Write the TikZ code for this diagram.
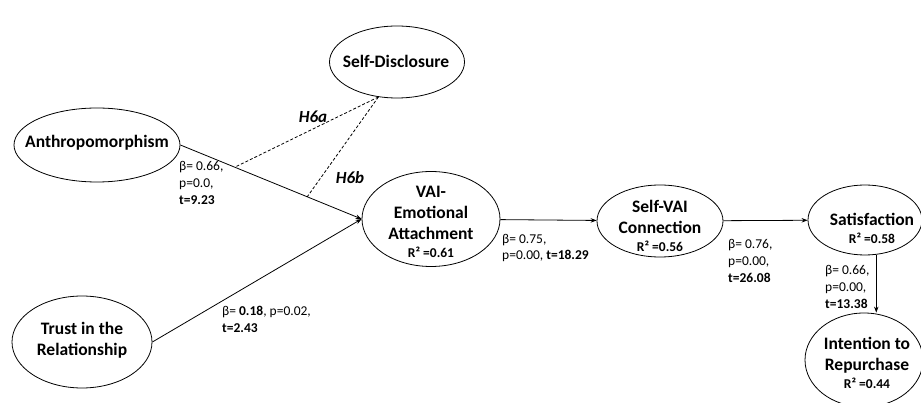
\documentclass[tikz,border=0pt]{standalone}
\usepackage{fontspec}
\setmainfont{Carlito}
\usetikzlibrary{shapes.geometric,arrows.meta,calc}
\newcommand{\rsqfont}{\bfseries\fontsize{13.5}{15}\selectfont}
\begin{document}
\begin{tikzpicture}[x=1pt,y=-1pt,
  ell/.style={draw, ellipse, line width=0.8pt, inner sep=0pt},
  ttl/.style={align=center, inner sep=0pt, font=\bfseries\fontsize{17.5}{21}\selectfont},
  lab/.style={align=left, anchor=west, inner sep=0pt, font=\fontsize{13.5}{16.8}\selectfont},
  hyp/.style={inner sep=0pt, font=\bfseries\itshape\fontsize{17}{18}\selectfont},
  arr/.style={line width=0.8pt, -{Stealth[length=6pt,width=4.5pt]}},
  dsh/.style={line width=0.8pt, dashed, dash pattern=on 3pt off 2pt}]
\useasboundingbox (0,0) rectangle (921,403);
% ellipses
\node[ell, minimum width=135pt, minimum height=72pt] (sd) at (397,62) {};
\node[ell, minimum width=166pt, minimum height=74pt] (anth) at (97,145) {};
\node[ell, minimum width=140pt, minimum height=92pt] (trust) at (82,342) {};
\node[ell, minimum width=138pt, minimum height=95pt] (vai) at (431,219) {};
\node[ell, minimum width=126pt, minimum height=72pt] (svai) at (660,221) {};
\node[ell, minimum width=114pt, minimum height=70pt] (sat) at (865,220) {};
\node[ell, minimum width=118pt, minimum height=94pt] (int) at (864,360) {};
% texts
\node[ttl] (sdt) at (396,61) {Self-Disclosure};
\node[ttl] (antht) at (97,143) {Anthropomorphism};
\node[ttl] (trustt) at (82,340) {Trust in the\\Relationship};
\node[ttl] (vait) at (431,222) {VAI-\\Emotional\\Attachment\\[-3pt]{\rsqfont R² =0.61}};
\node[ttl] (svait) at (660,226) {Self-VAI\\Connection\\[-3pt]{\rsqfont R² =0.56}};
\node[ttl] (satt) at (872,228) {Satisfaction\\[-3pt]{\rsqfont R² =0.58}};
\node[ttl] (intt) at (867,363) {Intention to\\Repurchase\\[-3pt]{\rsqfont R² =0.44}};
% connectors
\draw[arr] (anth.east) -- (vai.west);
\draw[arr] (trust.east) -- (vai.west);
\draw[arr] (vai) -- (svai);
\draw[arr] (svai) -- (sat);
\draw[arr] (sat.-72) -- (sat.-72 |- int.north);
\coordinate (m1) at ($(anth.east)!0.30!(vai.west)$);
\coordinate (m2) at ($(anth.east)!0.70!(vai.west)$);
\draw[dsh] (sd.-118) -- (m1);
\draw[dsh] (sd.-118) -- (m2);
% labels
\node[hyp] (h6a) at (313,117) {H6a};
\node[hyp] (h6b) at (350,178) {H6b};
\node[lab] (l1) at (179,183) {β= 0.66,\\p=0.0,\\\textbf{t=9.23}};
\node[lab] (l2) at (222,319) {β= \textbf{0.18}, p=0.02,\\\textbf{t=2.43}};
\node[lab] (l3) at (502,248) {β= 0.75,\\p=0.00, \textbf{t=18.29}};
\node[lab] (l4) at (728,261) {β= 0.76,\\p=0.00,\\\textbf{t=26.08}};
\node[lab] (l5) at (825,287) {β= 0.66,\\p=0.00,\\\textbf{t=13.38}};
\end{tikzpicture}
\end{document}
